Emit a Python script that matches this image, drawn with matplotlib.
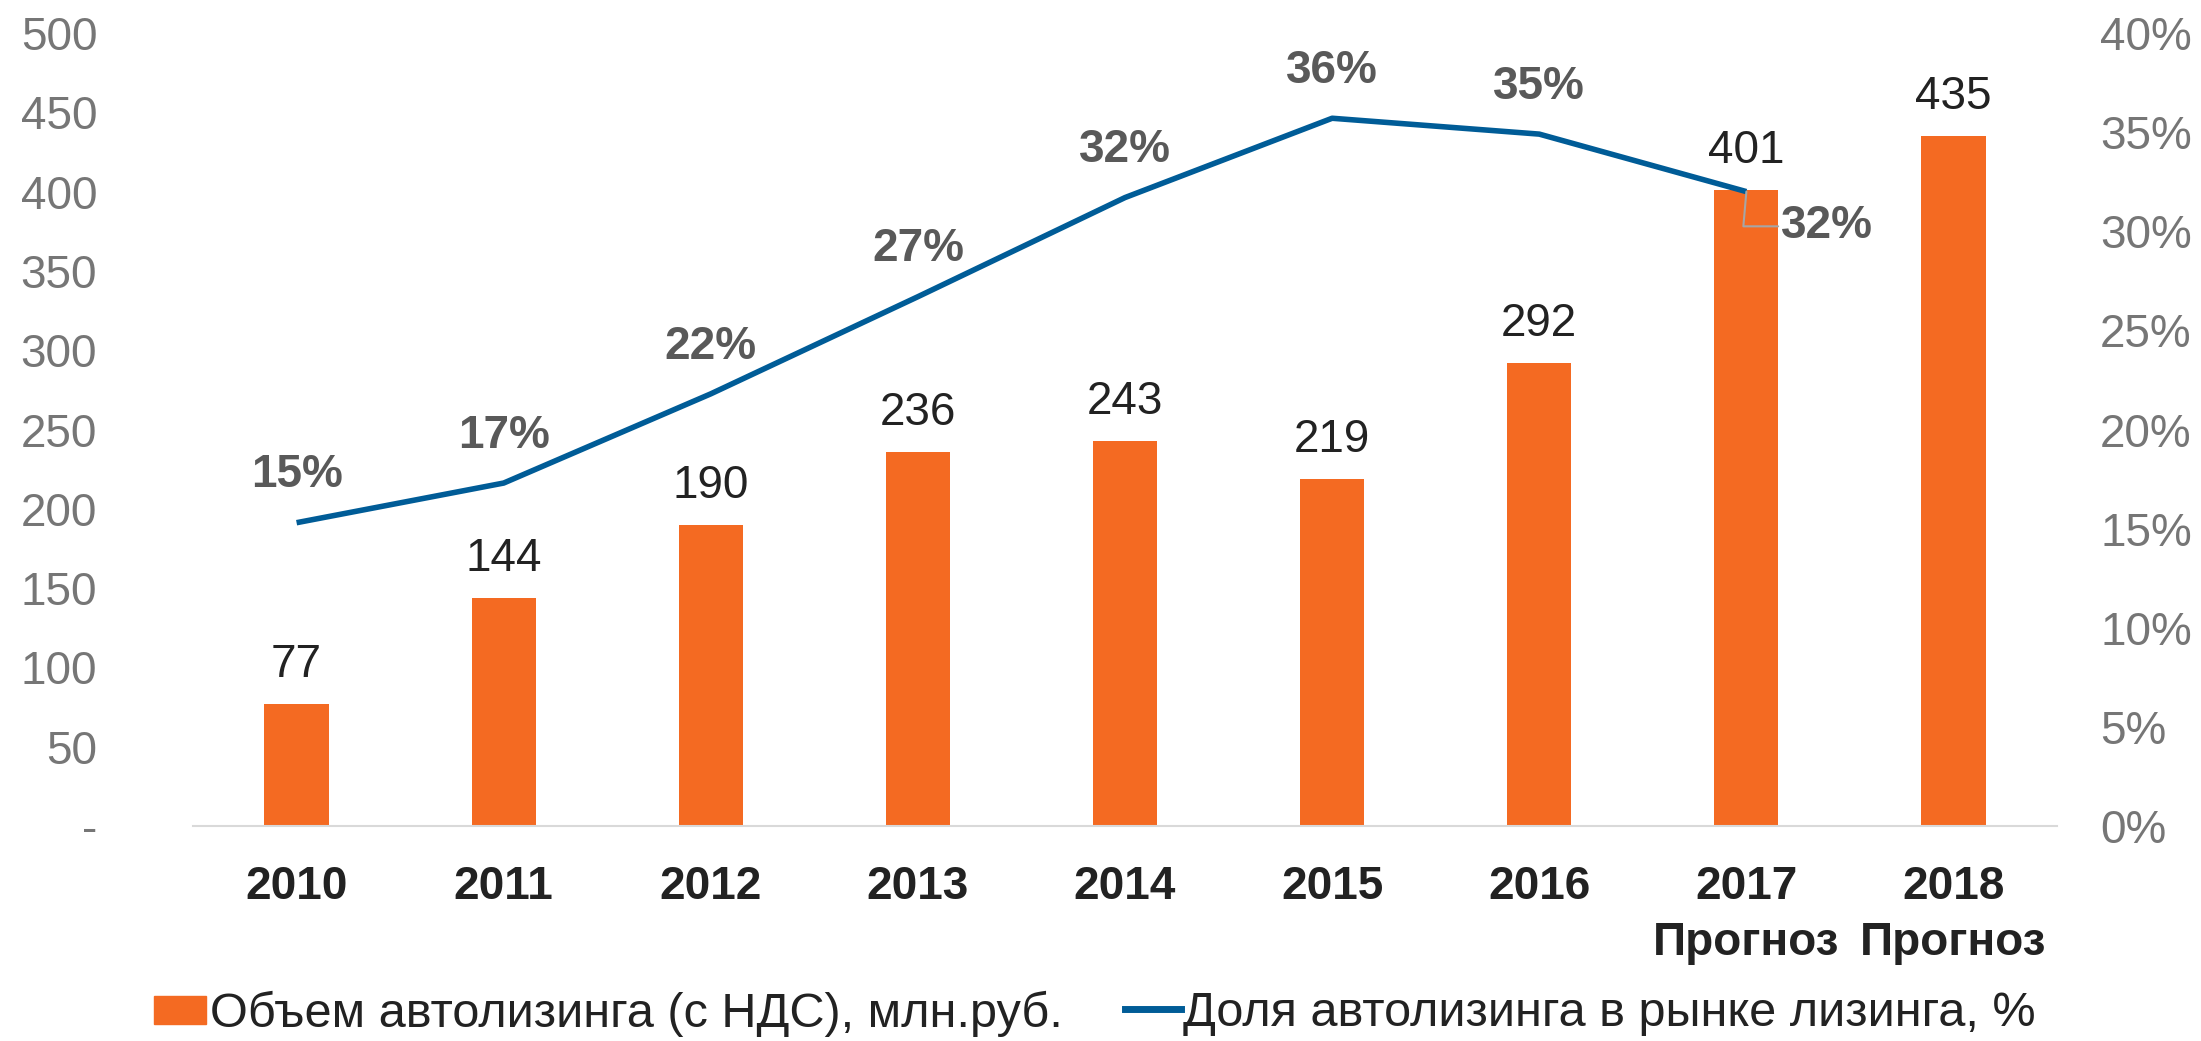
import numpy as np
import matplotlib
matplotlib.use('Agg')
import matplotlib.pyplot as plt
import matplotlib.patches as mpatches
import matplotlib.lines as mlines
import matplotlib.ticker as mtick

plt.rcParams['font.family'] = ['Liberation Sans', 'DejaVu Sans']

# data
years = ['2010', '2011', '2012', '2013', '2014', '2015', '2016', '2017\nПрогноз', '2018\nПрогноз']
volume = [77, 144, 190, 236, 243, 219, 292, 401, 435]
share_years = years[:8]
share = [15.3, 17.3, 21.8, 26.7, 31.7, 35.7, 34.9, 32.0]

bar_label = 'Объем автолизинга (с НДС), млн.руб.'
line_label = 'Доля автолизинга в рынке лизинга, %'

bar_color = '#F46A22'
line_color = '#005C97'
tick_gray = '#767676'
pct_gray = '#595959'

fig = plt.figure(figsize=(22.01, 10.41), dpi=100)
ax = fig.add_axes([0.0877, 0.2065, 0.8469, 0.7618])
ax2 = ax.twinx()

x = np.arange(len(years))
ax.bar(x, volume, 0.31, color=bar_color, zorder=2)
ax.set_xlim(-0.5, len(years) - 0.5)
ax.set_ylim(0, 500)
ax.set_yticks(np.arange(0, 501, 50))
ax.yaxis.set_major_formatter(mtick.FuncFormatter(lambda v, p: '-' if v == 0 else '%d' % v))

for xi, v in zip(x, volume):
	ax.annotate(str(v), (xi, v), xytext=(0, 12), textcoords='offset points',
		ha='center', va='bottom', fontsize=33, color='#222222')

# share line
xs = np.arange(len(share_years))
ax2.plot(xs, share, color=line_color, lw=4, solid_capstyle='butt', zorder=3)
ax2.set_ylim(0, 40)
ax2.set_yticks(np.arange(0, 41, 5))
ax2.yaxis.set_major_formatter(mtick.FuncFormatter(lambda v, p: '%d%%' % v))

for xi, v in zip(xs[:-1], share[:-1]):
	ax2.annotate('%.0f%%' % v, (xi, v), xytext=(0, 34), textcoords='offset points',
		ha='center', va='center', fontsize=33, fontweight='bold', color=pct_gray)
# last point label with leader line
ax2.annotate('%.0f%%' % share[-1], (xs[-1], share[-1]), xytext=(58, -25), textcoords='offset points',
	ha='center', va='center', fontsize=33, fontweight='bold', color=pct_gray,
	arrowprops=dict(arrowstyle='-', color='#A6A6A6', lw=1.5, shrinkA=0, shrinkB=0,
		connectionstyle='angle,angleA=0,angleB=85,rad=0', relpos=(0, 0.5)))

# axes styling
for a in (ax, ax2):
	for s in a.spines.values():
		s.set_visible(False)
ax.spines['bottom'].set_visible(True)
ax.spines['bottom'].set_color('#D9D9D9')
ax.spines['bottom'].set_linewidth(1.5)

ax.set_xticks(x)
ax.set_xticklabels(years, fontsize=33, fontweight='bold', color='#222222', linespacing=1.35)
ax.tick_params(axis='x', length=0, pad=28)
ax.tick_params(axis='y', length=0, pad=69, labelsize=33, labelcolor=tick_gray)
for t in ax.get_yticklabels():
	t.set_horizontalalignment('right')
ax2.tick_params(axis='y', length=0, pad=31, labelsize=33, labelcolor=tick_gray)

# legend
h1 = mpatches.Patch(color=bar_color, label=bar_label)
h2 = mlines.Line2D([], [], color=line_color, lw=5, label=line_label)
leg1 = fig.legend(handles=[h1], loc='center left', bbox_to_anchor=(0.070, 0.026), frameon=False,
	prop={'size': 35}, labelcolor='#222222', handlelength=1.07, handleheight=0.51, handletextpad=0.08,
	borderpad=0, borderaxespad=0)
leg2 = fig.legend(handles=[h2], loc='center left', bbox_to_anchor=(0.511, 0.026), frameon=False,
	prop={'size': 35}, labelcolor='#222222', handlelength=1.15, handletextpad=0.05,
	borderpad=0, borderaxespad=0)

plt.savefig('out.png', dpi=100)
